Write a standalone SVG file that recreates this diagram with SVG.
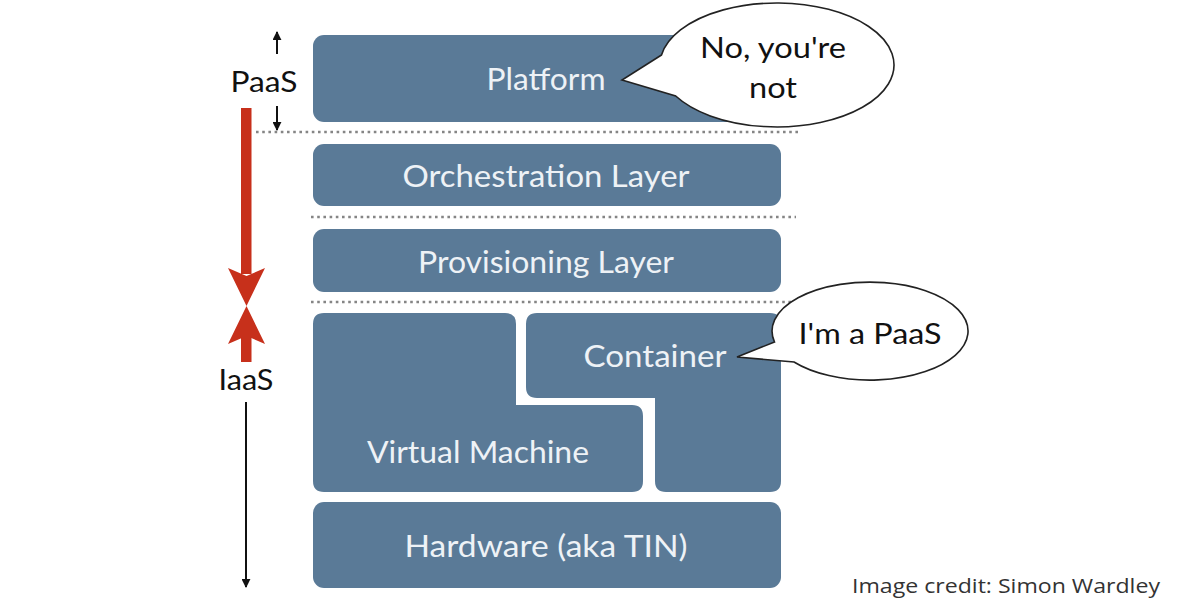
<svg xmlns="http://www.w3.org/2000/svg" width="1186" height="610" viewBox="0 0 1186 610">
<style>
.box{fill:#5a7a97;}
.bt{font-family:Lato,"Open Sans","Liberation Sans",sans-serif;font-size:30px;fill:#eef2f6;text-anchor:middle;}
.lt{font-family:Lato,"Open Sans","Liberation Sans",sans-serif;font-size:29px;fill:#111;text-anchor:middle;}
.bub{fill:#fff;stroke:#222;stroke-width:1.6;}
.dot{stroke:#858585;stroke-width:2.6;stroke-dasharray:2.6 3.6;fill:none;}
.blk{stroke:#111;stroke-width:2;fill:none;}
.red{fill:#c7301b;}
</style>
<defs>
<marker id="ah" viewBox="0 0 10 10" refX="9" refY="5" markerWidth="9" markerHeight="9" markerUnits="userSpaceOnUse" orient="auto">
<path d="M0,0 L10,5 L0,10 Z" fill="#111"/>
</marker>
</defs>
<rect width="1186" height="610" fill="#fff"/>

<g id="separators">
<line class="dot" x1="256" y1="132" x2="800" y2="132"/>
<line class="dot" x1="311" y1="217" x2="796" y2="217"/>
<line class="dot" x1="311" y1="302" x2="800" y2="302"/>
</g>

<g id="platform">
<rect class="box" x="313" y="35" width="468" height="87" rx="11"/>
<text class="bt" x="546" y="90" textLength="119" lengthAdjust="spacingAndGlyphs">Platform</text>
</g>
<g id="orchestration">
<rect class="box" x="313" y="144" width="468" height="62" rx="11"/>
<text class="bt" x="546" y="187" textLength="287" lengthAdjust="spacingAndGlyphs">Orchestration Layer</text>
</g>
<g id="provisioning">
<rect class="box" x="313" y="229" width="468" height="63" rx="11"/>
<text class="bt" x="546" y="273" textLength="256" lengthAdjust="spacingAndGlyphs">Provisioning Layer</text>
</g>
<g id="vm">
<path class="box" d="M324,313 H505 Q516,313 516,324 V405 H632 Q643,405 643,416 V481 Q643,492 632,492 H324 Q313,492 313,481 V324 Q313,313 324,313 Z"/>
<text class="bt" x="478" y="463" textLength="222" lengthAdjust="spacingAndGlyphs">Virtual Machine</text>
</g>
<g id="container">
<path class="box" d="M537,313 H770 Q781,313 781,324 V481 Q781,492 770,492 H666 Q655,492 655,481 V398 H537 Q526,398 526,387 V324 Q526,313 537,313 Z"/>
<text class="bt" x="655" y="367" textLength="143" lengthAdjust="spacingAndGlyphs">Container</text>
</g>
<g id="hardware">
<rect class="box" x="313" y="502" width="468" height="86" rx="11"/>
<text class="bt" x="546" y="557" textLength="283" lengthAdjust="spacingAndGlyphs">Hardware (aka TIN)</text>
</g>

<g id="bubble-platform">
<path class="bub" d="M661.5,55 L622,80 L675.7,96 A117,62 0 1 0 661.5,55 Z"/>
<text class="lt" x="773" y="58" textLength="146" lengthAdjust="spacingAndGlyphs">No, you're</text>
<text class="lt" x="773" y="98" textLength="48" lengthAdjust="spacingAndGlyphs">not</text>
</g>
<g id="bubble-container">
<path class="bub" d="M774.5,342 L737,357 L794,362 A98,49 0 1 0 774.5,342 Z"/>
<text class="lt" x="870" y="344" textLength="143" lengthAdjust="spacingAndGlyphs">I'm a PaaS</text>
</g>

<g id="paas-label">
<text class="lt" x="264" y="92" textLength="67" lengthAdjust="spacingAndGlyphs">PaaS</text>
</g>
<g id="iaas-label">
<text class="lt" x="246" y="390" textLength="55" lengthAdjust="spacingAndGlyphs">IaaS</text>
</g>

<g id="connectors">
<line class="blk" x1="277" y1="54" x2="277" y2="32" marker-end="url(#ah)"/>
<line class="blk" x1="277" y1="106" x2="277" y2="130" marker-end="url(#ah)"/>
<rect class="red" x="241" y="108" width="10.5" height="166"/>
<polygon class="red" points="228,268 246.5,276 265,268 246.5,306"/>
<polygon class="red" points="246.5,306 265,344 246.5,336 228,344"/>
<rect class="red" x="241" y="336" width="10.5" height="26"/>
<line class="blk" x1="246" y1="402" x2="246" y2="587" marker-end="url(#ah)"/>
</g>

<g id="credit">
<text x="1006" y="593" font-family="'Open Sans','Liberation Sans',sans-serif" font-size="20" fill="#333" text-anchor="middle" textLength="308" lengthAdjust="spacingAndGlyphs">Image credit: Simon Wardley</text>
</g>
</svg>
